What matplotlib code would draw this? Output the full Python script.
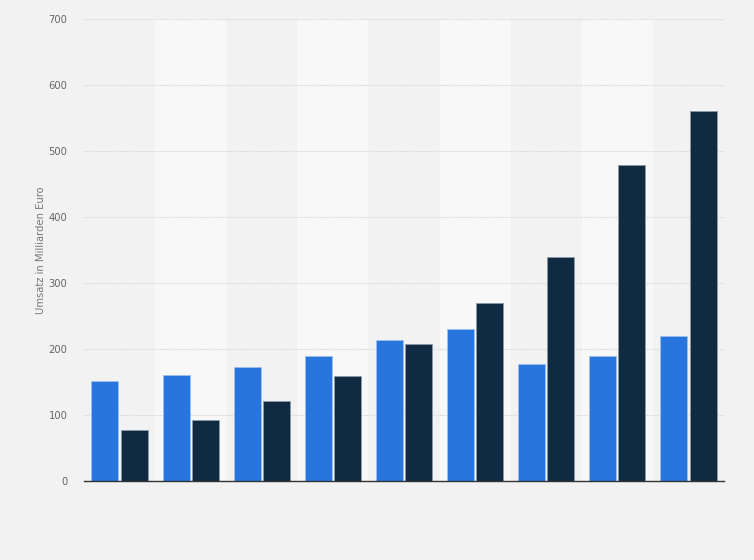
import numpy as np
import matplotlib.pyplot as plt

# values (Umsatz in Milliarden Euro)
groups = np.arange(9)
series_a = [152, 161, 172, 190, 213, 230, 177, 190, 219]
series_b = [77, 93, 121, 159, 208, 270, 340, 479, 561]
yticks = [0, 100, 200, 300, 400, 500, 600, 700]

fig = plt.figure(figsize=(7.54, 5.6), dpi=100, facecolor='#f2f2f2')
ax = fig.add_axes([84 / 754, 79 / 560, 640 / 754, 462 / 560])
ax.set_facecolor('#f2f2f2')

# alternating column bands
for g in groups:
    if g % 2 == 1:
        ax.axvspan(g - 0.5, g + 0.5, color='#f8f8f8', zorder=0, lw=0)

w = 0.38
ax.bar(groups - 0.205, series_a, w, color='#2876dd', edgecolor='#9cc0ee', linewidth=0.6, zorder=3)
ax.bar(groups + 0.205, series_b, w, color='#0f2a41', edgecolor='#8a9aa8', linewidth=0.6, zorder=3)

ax.set_xlim(-0.5, 8.5)
ax.set_ylim(0, 700)
ax.set_yticks(yticks)
ax.set_xticks([])
ax.yaxis.grid(True, linestyle=(0, (1, 1)), color='#d4d4d4', linewidth=0.8, zorder=1)
ax.set_axisbelow(True)

for s in ['top', 'right', 'left']:
    ax.spines[s].set_visible(False)
ax.spines['bottom'].set_color('#333333')
ax.spines['bottom'].set_linewidth(1.0)
ax.spines['bottom'].set_zorder(4)

ax.tick_params(axis='y', length=0, pad=12, labelsize=7.2, labelcolor='#666666')
ax.set_ylabel('Umsatz in Milliarden Euro', fontsize=7.2, color='#777777', labelpad=2)

fig.savefig('out.png', dpi=100, facecolor=fig.get_facecolor())
